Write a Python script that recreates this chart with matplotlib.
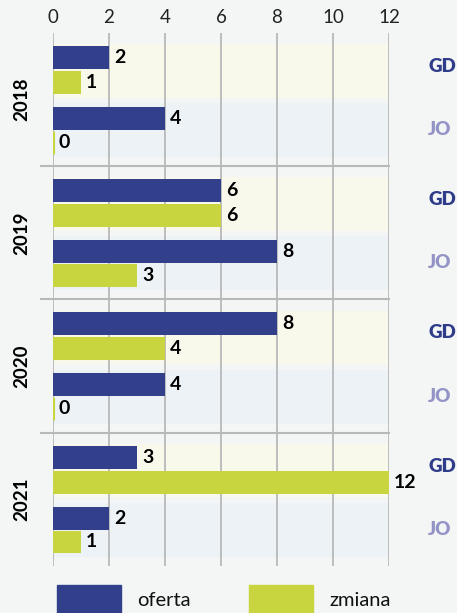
import matplotlib.pyplot as plt
from matplotlib.patches import Rectangle

# dane
YEARS = ["2018", "2019", "2020", "2021"]
GROUPS = ["GD", "JO"]
OFERTA_GD = [2, 6, 8, 3]
ZMIANA_GD = [1, 6, 4, 12]
OFERTA_JO = [4, 8, 4, 2]
ZMIANA_JO = [0, 3, 0, 1]
X_TICKS = [0, 2, 4, 6, 8, 10, 12]

# kolory
BG = "#f4f6f5"
BAND_GD = "#f8f9ea"
BAND_JO = "#edf2f6"
C_OFERTA = "#323f8b"
C_ZMIANA = "#c8d53f"
C_GRID = "#b8b8b8"
C_GD = "#2f3c8a"
C_JO = "#9393c6"

plt.rcParams["font.family"] = ["Lato", "DejaVu Sans"]

fig = plt.figure(figsize=(4.57, 6.13), dpi=100, facecolor=BG)
ax = fig.add_axes([0.116, 0.0767, 0.735, 0.8695])
ax.set_facecolor(BG)

# pozycje wewnątrz bloku roku
OFF_OF_GD, OFF_ZM_GD, OFF_OF_JO, OFF_ZM_JO = 0.183, 0.371, 0.641, 0.820
BAR_H = 0.172

for i, year in enumerate(YEARS):
    ax.axhspan(i + 0.083, i + 0.486, color=BAND_GD, lw=0, zorder=0)
    ax.axhspan(i + 0.526, i + 0.932, color=BAND_JO, lw=0, zorder=0)

for x in X_TICKS:
    ax.axvline(x, color=C_GRID, lw=1.3, zorder=1)

series = [
    (OFERTA_GD, OFF_OF_GD, C_OFERTA),
    (ZMIANA_GD, OFF_ZM_GD, C_ZMIANA),
    (OFERTA_JO, OFF_OF_JO, C_OFERTA),
    (ZMIANA_JO, OFF_ZM_JO, C_ZMIANA),
]
for vals, off, col in series:
    ys = [i + off for i in range(len(YEARS))]
    ax.barh(ys, vals, height=BAR_H, color=col, lw=0, zorder=2)
    for y, v in zip(ys, vals):
        if v == 0:
            # słupek zerowy widoczny jako cienka kreska
            ax.vlines(v, y - BAR_H / 2, y + BAR_H / 2, color=col, lw=2.2, zorder=2)
        ax.text(v + 0.18, y, str(v), ha="left", va="center", fontsize=14,
                fontweight="bold", color="black", zorder=3, clip_on=False)

for i, year in enumerate(YEARS):
    ax.text(-1.1, i + 0.5, year, rotation=90, ha="center", va="center",
            fontsize=13.5, fontweight="bold", color="black", clip_on=False)
    ax.text(13.4, i + 0.25, GROUPS[0], ha="left", va="center", fontsize=13.5,
            fontweight="heavy", color=C_GD, clip_on=False)
    ax.text(13.4, i + 0.725, GROUPS[1], ha="left", va="center", fontsize=13.5,
            fontweight="heavy", color=C_JO, clip_on=False)
    if i > 0:
        ax.plot([-0.43, 12], [i, i], color=C_GRID, lw=1.5, clip_on=False, zorder=1)

ax.set_xlim(0, 12)
ax.set_ylim(len(YEARS), 0)
ax.xaxis.tick_top()
ax.set_xticks(X_TICKS)
ax.tick_params(axis="x", length=0, pad=5, labelsize=13.5, colors="#222222")
ax.set_yticks([])
for s in ax.spines.values():
    s.set_visible(False)

# legenda
fig.patches.append(Rectangle((57 / 457, 0), 64 / 457, 28 / 613,
                             transform=fig.transFigure, color=C_OFERTA))
fig.patches.append(Rectangle((249 / 457, 0), 64 / 457, 28 / 613,
                             transform=fig.transFigure, color=C_ZMIANA))
fig.text(137 / 457, 0.021, "oferta", ha="left", va="center", fontsize=14.5, color="#111111")
fig.text(329 / 457, 0.021, "zmiana", ha="left", va="center", fontsize=14.5, color="#111111")

fig.savefig("out.png", dpi=100, facecolor=BG)
